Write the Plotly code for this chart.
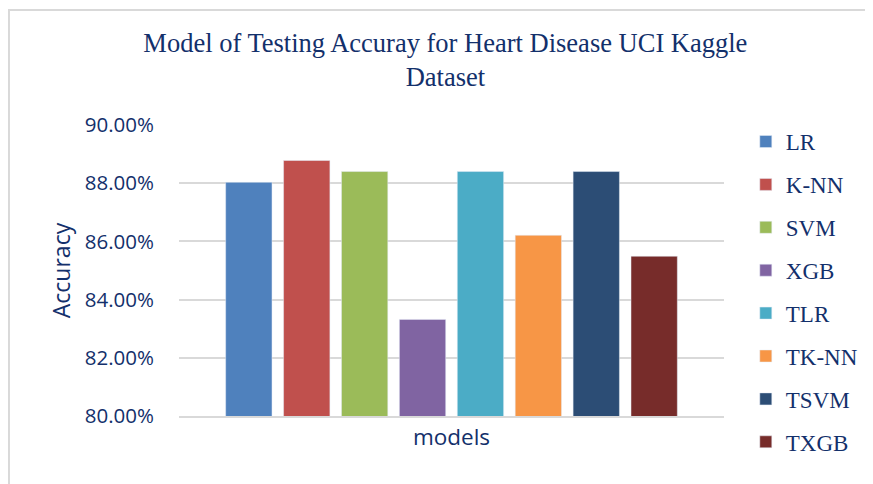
import plotly.graph_objects as go

# values
models = ["LR", "K-NN", "SVM", "XGB", "TLR", "TK-NN", "TSVM", "TXGB"]
accuracy = [0.8803, 0.8878, 0.8840, 0.8332, 0.8840, 0.8621, 0.8840, 0.8549]
colors = ["#4F81BD", "#C0504D", "#9BBB59", "#8064A2",
          "#4BACC6", "#F79646", "#2C4D75", "#772C2A"]
category = ["models"]

TEXT = "#13306B"

fig = go.Figure()
for i, (name, acc, col) in enumerate(zip(models, accuracy, colors)):
    fig.add_trace(
        go.Bar(
            x=category,
            y=[acc],
            name=name,
            marker=dict(color=col),
            legendgroup=f"g{i}",
        )
    )

# the page body adds an 8px offset, so margins are shifted to compensate
fig.update_layout(
    width=873,
    height=484,
    paper_bgcolor="white",
    plot_bgcolor="white",
    margin=dict(l=171, r=157, t=117, b=76),
    barmode="group",
    bargap=0.15,
    bargroupgap=0.2,
    title=dict(
        text="Model of Testing Accuray for Heart Disease UCI Kaggle<br>Dataset",
        x=0.501,
        xanchor="center",
        y=0.909,
        yanchor="middle",
        font=dict(family="Liberation Serif", size=26.5, color=TEXT),
    ),
    legend=dict(
        x=1.04,
        xanchor="left",
        y=1.017,
        yanchor="top",
        traceorder="grouped",
        tracegroupgap=10,
        maxheight=470,
        font=dict(family="Liberation Serif", size=23, color=TEXT),
        bgcolor="rgba(0,0,0,0)",
    ),
    shapes=[
        dict(
            type="rect", xref="paper", yref="paper",
            x0=-0.312, x1=1.4, y0=-0.5, y1=1.395,
            line=dict(color="#D9D9D9", width=2),
            layer="below",
        )
    ],
)

fig.update_yaxes(
    range=[0.80, 0.90],
    dtick=0.02,
    tickformat=".2%",
    showgrid=True,
    gridcolor="#D9D9D9",
    gridwidth=1.5,
    zeroline=False,
    ticks="",
    ticklabelstandoff=24,
    tickfont=dict(family="Open Sans", size=20.5, color=TEXT),
    title=dict(text="Accuracy", standoff=7,
               font=dict(family="Open Sans", size=23, color=TEXT)),
)

fig.update_xaxes(
    showline=True,
    linecolor="#D9D9D9",
    linewidth=1.5,
    ticks="",
    tickfont=dict(family="Open Sans", size=22.5, color=TEXT),
)

fig.write_html("out.html")
